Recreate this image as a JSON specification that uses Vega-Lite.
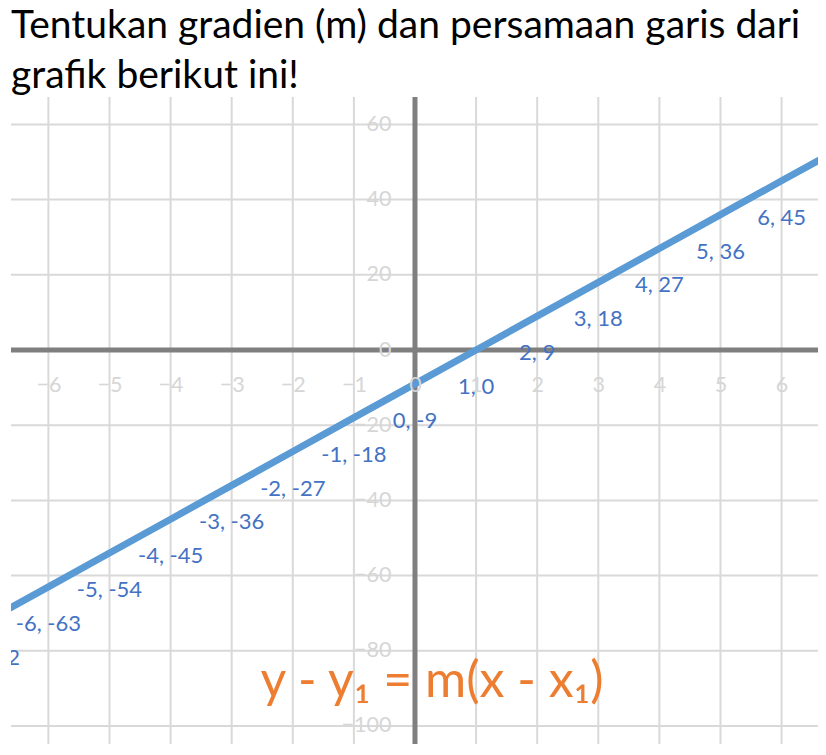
{
  "$schema": "https://vega.github.io/schema/vega-lite/v6.json",
  "width": 807,
  "height": 647,
  "autosize": {"type": "none"},
  "padding": {"left": 11, "top": 97, "right": 8, "bottom": 11},
  "background": "white",
  "title": {
    "text": ["Tentukan gradien (m) dan persamaan garis dari", "grafik berikut ini!"],
    "anchor": "start",
    "frame": "group",
    "font": "Lato",
    "fontSize": 39,
    "fontWeight": "normal",
    "color": "#000000",
    "lineHeight": 50,
    "offset": -1
  },
  "config": {"view": {"stroke": null}, "font": "Lato"},
  "datasets": {
    "pts": [
      {"x": -7, "y": -72, "label": "-7, -72"},
      {"x": -6, "y": -63, "label": "-6, -63"},
      {"x": -5, "y": -54, "label": "-5, -54"},
      {"x": -4, "y": -45, "label": "-4, -45"},
      {"x": -3, "y": -36, "label": "-3, -36"},
      {"x": -2, "y": -27, "label": "-2, -27"},
      {"x": -1, "y": -18, "label": "-1, -18"},
      {"x": 0, "y": -9, "label": "0, -9"},
      {"x": 1, "y": 0, "label": "1, 0"},
      {"x": 2, "y": 9, "label": "2, 9"},
      {"x": 3, "y": 18, "label": "3, 18"},
      {"x": 4, "y": 27, "label": "4, 27"},
      {"x": 5, "y": 36, "label": "5, 36"},
      {"x": 6, "y": 45, "label": "6, 45"},
      {"x": 7, "y": 54, "label": "7, 54"}
    ],
    "xgrid": [
      {"x": -6}, {"x": -5}, {"x": -4}, {"x": -3}, {"x": -2}, {"x": -1},
      {"x": 1}, {"x": 2}, {"x": 3}, {"x": 4}, {"x": 5}, {"x": 6}
    ],
    "ygrid": [
      {"y": -100}, {"y": -80}, {"y": -60}, {"y": -40}, {"y": -20},
      {"y": 20}, {"y": 40}, {"y": 60}
    ],
    "origin": [{"x": 0, "y": 0}],
    "eq": [{"x": 0.28, "y": -88.3, "text": "y - y₁ = m(x - x₁)"}]
  },
  "layer": [
    {
      "data": {"name": "xgrid"},
      "mark": {"type": "rule", "color": "#d9d9d9", "strokeWidth": 2},
      "encoding": {
        "x": {
          "field": "x",
          "type": "quantitative",
          "title": null,
          "scale": {"domain": [-6.612, 6.596], "nice": false, "zero": false},
          "axis": {
            "orient": "bottom",
            "offset": -359,
            "values": [-6, -5, -4, -3, -2, -1, 0, 1, 2, 3, 4, 5, 6],
            "format": "d",
            "domain": false,
            "ticks": false,
            "tickSize": 0,
            "grid": false,
            "labelPadding": 0,
            "labelBaseline": "middle",
            "labelFlush": false,
            "labelOverlap": false,
            "labelFont": "Lato",
            "labelFontSize": 21.5,
            "labelColor": "#d6d6d6",
            "zindex": 1
          }
        }
      }
    },
    {
      "data": {"name": "ygrid"},
      "mark": {"type": "rule", "color": "#d9d9d9", "strokeWidth": 2},
      "encoding": {
        "y": {
          "field": "y",
          "type": "quantitative",
          "title": null,
          "scale": {"domain": [-104.79, 67.29], "nice": false, "zero": false},
          "axis": {
            "orient": "left",
            "offset": -380,
            "values": [-100, -80, -60, -40, -20, 0, 20, 40, 60],
            "format": "d",
            "domain": false,
            "ticks": false,
            "tickSize": 0,
            "grid": false,
            "labelPadding": 0,
            "labelBaseline": "middle",
            "labelFlush": false,
            "labelOverlap": false,
            "labelFont": "Lato",
            "labelFontSize": 21.5,
            "labelColor": "#d6d6d6",
            "zindex": 1
          }
        }
      }
    },
    {
      "data": {"name": "origin"},
      "mark": {"type": "rule", "color": "#7f7f7f", "strokeWidth": 5},
      "encoding": {"x": {"field": "x", "type": "quantitative", "title": null}}
    },
    {
      "data": {"name": "origin"},
      "mark": {"type": "rule", "color": "#7f7f7f", "strokeWidth": 5},
      "encoding": {"y": {"field": "y", "type": "quantitative", "title": null}}
    },
    {
      "data": {"name": "pts"},
      "mark": {"type": "line", "color": "#5B9BD5", "strokeWidth": 7, "clip": true},
      "encoding": {
        "x": {"field": "x", "type": "quantitative", "title": null},
        "y": {"field": "y", "type": "quantitative", "title": null}
      }
    },
    {
      "data": {"name": "pts"},
      "transform": [{"filter": "datum.x < 7"}],
      "mark": {"type": "text", "color": "#4472C4", "font": "Lato", "fontSize": 22, "dy": 37, "align": "center", "baseline": "middle", "clip": true},
      "encoding": {
        "x": {"field": "x", "type": "quantitative", "title": null},
        "y": {"field": "y", "type": "quantitative", "title": null},
        "text": {"field": "label", "type": "nominal"}
      }
    },
    {
      "data": {"name": "eq"},
      "mark": {"type": "text", "color": "#ED7D31", "font": "Lato", "fontSize": 50, "align": "center", "baseline": "middle"},
      "encoding": {
        "x": {"field": "x", "type": "quantitative", "title": null},
        "y": {"field": "y", "type": "quantitative", "title": null},
        "text": {"field": "text", "type": "nominal"}
      }
    }
  ]
}
